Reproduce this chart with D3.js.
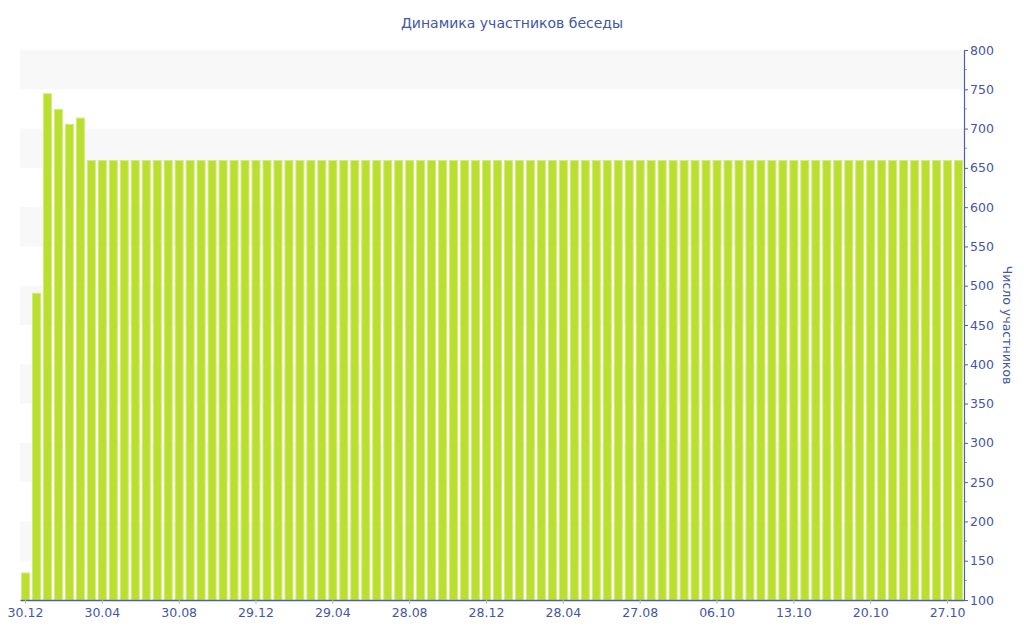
<!DOCTYPE html>
<html>
<head>
<meta charset="utf-8">
<script src="https://cdn.jsdelivr.net/npm/d3@7"></script>
<style>
  html, body { margin: 0; padding: 0; background: #fff; }
  svg text { font-family: "DejaVu Sans", Verdana, sans-serif; }
</style>
</head>
<body>
<svg id="chart" width="1024" height="640"></svg>
<script>
// ---- data ----
const title = "Динамика участников беседы";
const yTitle = "Число участников";
const tickLabels = ["30.12", "30.04", "30.08", "29.12", "29.04", "28.08", "28.12", "28.04", "27.08", "06.10", "13.10", "20.10", "27.10"];
const tickEvery = 7;
const headValues = [135, 491, 745, 725, 706, 714];
const plateauValue = 660;
const plateauCount = 80;
const values = headValues.concat(Array(plateauCount).fill(plateauValue));
const yTicks = [100, 150, 200, 250, 300, 350, 400, 450, 500, 550, 600, 650, 700, 750, 800];

// ---- layout ----
const svg = d3.select("#chart");
const L = 20, R = 964, T = 50, B = 600;
const textColor = "#4257a3";
const axisColor = "#4a62a8";

const x = d3.scaleBand().domain(d3.range(values.length)).range([L, R]).paddingInner(0.18).paddingOuter(0.09);
const y = d3.scaleLinear().domain([100, 800]).range([B, T]);

// alternating bands
const bandPairs = [];
for (let v = 150; v < 800; v += 100) bandPairs.push([v, v + 50]);
svg.append("g").selectAll("rect").data(bandPairs).join("rect")
  .attr("x", L).attr("width", R - L)
  .attr("y", d => y(d[1])).attr("height", d => y(d[0]) - y(d[1]))
  .attr("fill", "#f8f8f8");

// bars
svg.append("g").selectAll("rect").data(values).join("rect")
  .attr("x", (d, i) => x(i) + 0.5)
  .attr("width", x.bandwidth() - 1)
  .attr("y", d => y(d) + 0.5)
  .attr("height", d => y(100) - y(d) - 0.5)
  .attr("fill", "#bbdf2f")
  .attr("stroke", "#d3ea7c")
  .attr("stroke-width", 1);

// x axis
const xAxis = d3.axisBottom(x)
  .tickValues(d3.range(0, values.length, tickEvery))
  .tickFormat(i => tickLabels[i / tickEvery])
  .tickSize(4).tickSizeOuter(0);
const gx = svg.append("g").attr("transform", `translate(0,${B})`).call(xAxis);
gx.select(".domain").attr("stroke", axisColor).attr("stroke-width", 1.5);
gx.selectAll(".tick line").attr("stroke", "#bbbbbb");
gx.selectAll(".tick text").attr("fill", textColor).attr("font-size", 12.5).attr("dy", "0.8em")
  .attr("font-family", "DejaVu Sans, Verdana, sans-serif");

// y axis (right) minor ticks
const minor = d3.range(125, 800, 50);
svg.append("g").selectAll("line").data(minor).join("line")
  .attr("x1", R).attr("x2", R + 3)
  .attr("y1", d => y(d)).attr("y2", d => y(d))
  .attr("stroke", "#8a9bc8");

const yAxis = d3.axisRight(y).tickValues(yTicks).tickSize(4).tickSizeOuter(0).tickPadding(2);
const gy = svg.append("g").attr("transform", `translate(${R},0)`).call(yAxis);
gy.select(".domain").attr("stroke", axisColor).attr("stroke-width", 1.2);
gy.selectAll(".tick line").attr("stroke", axisColor);
gy.selectAll(".tick text").attr("fill", textColor).attr("font-size", 12.5)
  .attr("font-family", "DejaVu Sans, Verdana, sans-serif");

// title
svg.append("text").attr("x", 512).attr("y", 28).attr("text-anchor", "middle")
  .attr("fill", textColor).attr("font-size", 14).text(title);

// y title
svg.append("text")
  .attr("transform", `translate(1003,${(T + B) / 2}) rotate(90)`)
  .attr("text-anchor", "middle").attr("fill", textColor).attr("font-size", 12.5)
  .text(yTitle);
</script>
</body>
</html>
